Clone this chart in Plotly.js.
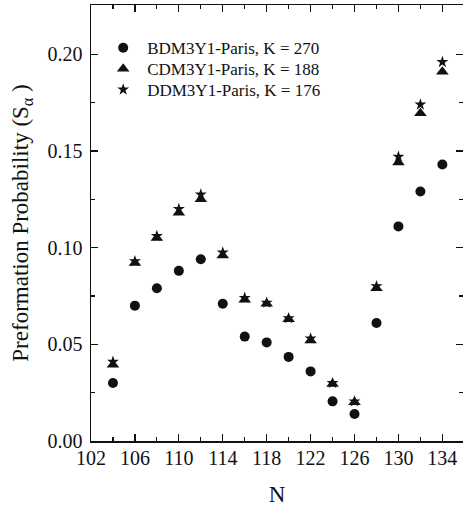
<!DOCTYPE html>
<html>
<head>
<meta charset="utf-8">
<script src="https://cdn.plot.ly/plotly-3.0.1.min.js"></script>
<style>html,body{margin:0;padding:0;background:#fff;}#chart{width:463px;height:510px;}</style>
</head>
<body>
<div id="chart"></div>
<script>
const neutronNumbers = [104, 106, 108, 110, 112, 114, 116, 118, 120, 122, 124, 126, 128, 130, 132, 134];
const bdm3y1Values = [0.030, 0.070, 0.079, 0.088, 0.094, 0.071, 0.054, 0.051, 0.0435, 0.036, 0.0205, 0.014, 0.061, 0.111, 0.129, 0.143];
const cdm3y1Values = [0.0395, 0.092, 0.105, 0.118, 0.125, 0.096, 0.073, 0.071, 0.063, 0.052, 0.0295, 0.0200, 0.079, 0.144, 0.1695, 0.191];
const ddm3y1Values = [0.041, 0.093, 0.106, 0.120, 0.1275, 0.0975, 0.074, 0.0715, 0.0635, 0.053, 0.030, 0.0205, 0.080, 0.147, 0.174, 0.196];
const seriesNames = ["BDM3Y1-Paris, K = 270", "CDM3Y1-Paris, K = 188", "DDM3Y1-Paris, K = 176"];
const xTickValues = [102, 106, 110, 114, 118, 122, 126, 130, 134];
const yTickValues = [0.00, 0.05, 0.10, 0.15, 0.20];
const yTickLabels = ["0.00", "0.05", "0.10", "0.15", "0.20"];

const font = "'Liberation Serif', 'Times New Roman', Times, serif";
const ink = "#111";

const traces = [
  {x: neutronNumbers, y: bdm3y1Values, name: seriesNames[0], type: "scatter", mode: "markers",
   legend: "legend", marker: {symbol: "circle", size: 10, color: ink}},
  {x: neutronNumbers, y: cdm3y1Values, name: seriesNames[1], type: "scatter", mode: "markers",
   legend: "legend2", marker: {symbol: "triangle-up", size: 11, color: ink}},
  {x: neutronNumbers, y: ddm3y1Values, name: seriesNames[2], type: "scatter", mode: "markers",
   legend: "legend3", marker: {symbol: "star", size: 9, color: ink}}
];

const axisCommon = {
  showgrid: false, zeroline: false, showline: true, linecolor: ink, linewidth: 1.5,
  mirror: "allticks", ticks: "inside", ticklen: 7, tickwidth: 1.2, tickcolor: ink,
  tickfont: {family: font, size: 20, color: ink}
};

function legendAt(yCenter) {
  return {x: 0.022, y: yCenter, xanchor: "left", yanchor: "middle", bgcolor: "rgba(0,0,0,0)",
          font: {family: font, size: 17, color: ink}, itemwidth: 38};
}

const layout = {
  width: 463, height: 510,
  margin: {l: 91, r: 0, t: 5, b: 69},
  paper_bgcolor: "#fff", plot_bgcolor: "#fff",
  font: {family: font, color: ink},
  showlegend: true,
  legend: legendAt(0.901),
  legend2: legendAt(0.853),
  legend3: legendAt(0.805),
  xaxis: Object.assign({}, axisCommon, {
    range: [102, 135.88], tickvals: xTickValues, ticktext: xTickValues.map(String),
    ticklabelstandoff: -2,
    minor: {dtick: 2, tick0: 102, ticks: "inside", ticklen: 4, tickcolor: ink, tickwidth: 1.2},
    title: {text: "N", font: {family: font, size: 23, color: ink}, standoff: 18}
  }),
  yaxis: Object.assign({}, axisCommon, {
    range: [0, 0.2255], tickvals: yTickValues, ticktext: yTickLabels,
    ticklabelstandoff: 3,
    minor: {dtick: 0.025, tick0: 0, ticks: "inside", ticklen: 4, tickcolor: ink, tickwidth: 1.2},
    title: {text: "Preformation Probability (S<sub>α</sub> )", font: {family: font, size: 23, color: ink}, standoff: 12}
  })
};

Plotly.newPlot("chart", traces, layout, {displayModeBar: false, staticPlot: true});
</script>
</body>
</html>
